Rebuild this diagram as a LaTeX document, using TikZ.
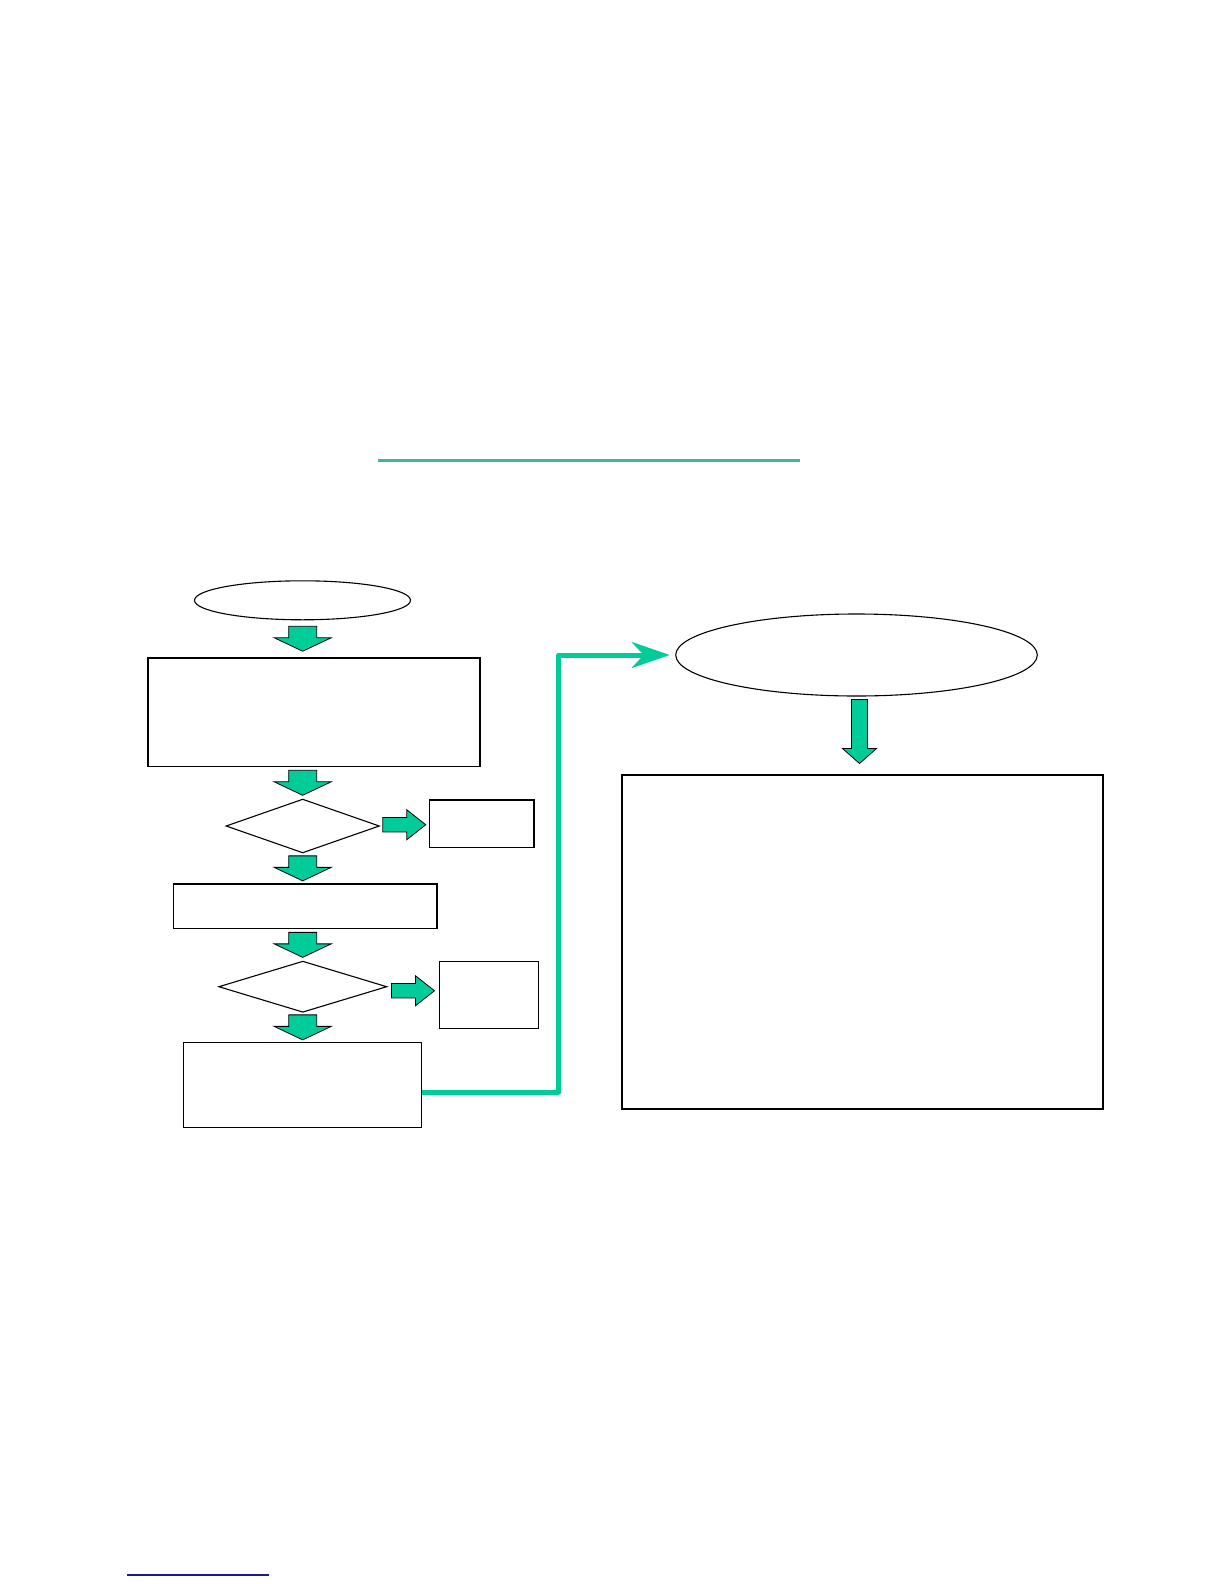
\documentclass[tikz,border=0pt]{standalone}
\usepackage{tikz}
\usetikzlibrary{arrows.meta,calc,shapes.geometric}
\definecolor{flowgreen}{RGB}{0,204,153}
\definecolor{rulegreen}{RGB}{64,180,160}
\definecolor{linkblue}{RGB}{26,26,150}
\tikzset{
  pics/blockarrow/.style n args={4}{code={
    \draw[black, line width=0.8pt, fill=flowgreen, line join=miter]
      (-#1/2,-#2) -- (#1/2-#4,-#2) -- (#1/2-#4,-#3) -- (#1/2,0)
      -- (#1/2-#4,#3) -- (#1/2-#4,#2) -- (-#1/2,#2) -- cycle;
  }}
}
\begin{document}
\begin{tikzpicture}[x=1pt, y=-1pt,
    every node/.style={inner sep=0pt, outer sep=0pt},
    box/.style={draw, line width=1.6pt, rectangle},
    oval/.style={draw, line width=1.1pt, ellipse},
    decision/.style={draw, line width=1.1pt, diamond}]
  \useasboundingbox (0,0) rectangle (1224,1584);
  \draw[rulegreen, line width=3pt] (378,460) -- (800,460);
  \draw[linkblue, line width=1.5pt] (127,1575) -- (269,1575);
  \node[oval, minimum width=216pt, minimum height=39pt] (start) at (302.5,600.3) {};
  \node[box, minimum width=332pt, minimum height=108.6pt] (box1) at (313.9,712) {};
  \node[decision, minimum width=153pt, minimum height=53.4pt] (dec1) at (302.7,826) {};
  \node[box, minimum width=104.4pt, minimum height=47.6pt] (stop1) at (481.5,823.5) {};
  \node[box, minimum width=263.7pt, minimum height=44.3pt] (box2) at (305.2,906.2) {};
  \node[decision, minimum width=167.7pt, minimum height=50.7pt] (dec2) at (302.8,986.7) {};
  \node[box, minimum width=99pt, minimum height=67pt] (stop2) at (488.8,994.8) {};
  \node[box, line width=1.3pt, minimum width=238.4pt, minimum height=84.6pt] (box3) at (302.5,1085) {};
  \node[oval, minimum width=361.6pt, minimum height=82pt] (goal) at (856.5,655) {};
  \node[box, line width=1.4pt, minimum width=481pt, minimum height=334pt] (result) at (862.5,942) {};
  \foreach \a/\b in {start/box1, box1/dec1, dec1/box2, box2/dec2, dec2/box3} {
    \coordinate (mid) at ($(\a.south)!.5!(\b.north)$);
    \pic[rotate=-90] at (mid -| dec1) {blockarrow={25}{14}{28.5}{13.5}};
  }
  \foreach \a/\b in {dec1/stop1, dec2/stop2}
    \pic at ($(\a.east)!.5!(\b.west)$) {blockarrow={43}{7.2}{15}{19}};
  \pic[rotate=-90] at ([yshift=4pt]$(goal.south)!.5!(result.north)$) {blockarrow={64}{8}{17}{15}};
  \draw[flowgreen, line width=5pt, line join=round, shorten >=6pt,
        -{Stealth[length=38pt, width=26pt, inset=12pt]}]
    ([yshift=-7pt]box3.east) -| ($(goal.west)+(-117,0)$) -- (goal.west);
\end{tikzpicture}
\end{document}
